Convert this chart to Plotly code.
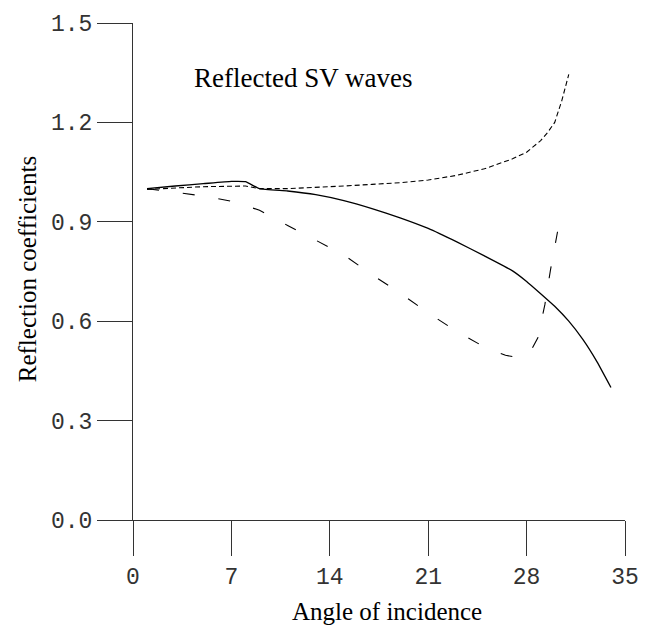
import plotly.graph_objects as go

# Angle of incidence (degrees) and reflection coefficients
solid_x = [1, 3, 5, 7, 8, 9, 11, 13, 15, 17, 19, 21, 23, 25, 27, 28, 29, 30, 31, 32, 33, 34]
solid_y = [1.0, 1.008, 1.015, 1.022, 1.021, 1.0, 0.993, 0.982, 0.964, 0.94, 0.912, 0.88, 0.84, 0.797, 0.752, 0.72, 0.683, 0.645, 0.6, 0.545, 0.478, 0.40]

dot_x = [1, 3, 5, 8, 9, 11, 13, 15, 17, 19, 21, 23, 25, 27, 28, 29, 29.5, 30, 30.5, 31]
dot_y = [0.998, 1.003, 1.006, 1.008, 1.0, 1.0, 1.003, 1.008, 1.013, 1.018, 1.026, 1.04, 1.06, 1.09, 1.11, 1.145, 1.17, 1.2, 1.265, 1.345]

dash_x = [1, 3, 5, 7, 9, 11, 13, 15, 17, 19, 21, 23, 25, 26.5, 27.5, 28.3, 28.8, 29.3, 29.7, 30.2]
dash_y = [1.0, 0.99, 0.978, 0.962, 0.935, 0.889, 0.845, 0.80, 0.74, 0.685, 0.625, 0.57, 0.522, 0.497, 0.49, 0.51, 0.55, 0.65, 0.755, 0.87]

x_ticks = [0, 7, 14, 21, 28, 35]
y_ticks = [0.0, 0.3, 0.6, 0.9, 1.2, 1.5]
y_tick_text = ["0.0", "0.3", "0.6", "0.9", "1.2", "1.5"]

fig = go.Figure()
fig.add_trace(go.Scatter(x=solid_x, y=solid_y, mode="lines",
                         line=dict(color="black", width=1.3, shape="spline", smoothing=0.4),
                         showlegend=False))
fig.add_trace(go.Scatter(x=dot_x, y=dot_y, mode="lines",
                         line=dict(color="black", width=1.1, dash="5px,3px"), showlegend=False))
fig.add_trace(go.Scatter(x=dash_x, y=dash_y, mode="lines",
                         line=dict(color="black", width=1.1, dash="12px,24px"), showlegend=False))

tickfont = dict(family="Liberation Mono", size=23, color="#333")
fig.update_layout(
    width=651, height=630,
    margin=dict(l=133, r=16, t=16, b=110),
    paper_bgcolor="white", plot_bgcolor="white",
    xaxis=dict(range=[0, 35], tickvals=x_ticks, ticktext=[str(v) for v in x_ticks],
               showgrid=False, zeroline=False, showline=True, linecolor="#333", linewidth=1.2,
               ticks="outside", ticklen=35, tickwidth=1.2, tickcolor="#333",
               tickfont=tickfont),
    yaxis=dict(range=[0, 1.5], tickvals=y_ticks, ticktext=y_tick_text,
               showgrid=False, zeroline=False, showline=True, linecolor="#333", linewidth=1.2,
               ticks="outside", ticklen=35, tickwidth=1.2, tickcolor="#333",
               tickfont=tickfont),
    annotations=[
        dict(text="Angle of incidence", xref="paper", yref="paper", x=0.516, y=-0.185,
             showarrow=False, font=dict(family="Liberation Serif", size=25, color="black"),
             xanchor="center", yanchor="middle"),
        dict(text="Reflection coefficients", xref="paper", yref="paper", x=-0.215, y=0.505,
             showarrow=False, textangle=-90,
             font=dict(family="Liberation Serif", size=25, color="black"),
             xanchor="center", yanchor="middle"),
        dict(text="Reflected SV waves", xref="paper", yref="paper", x=0.12, y=0.889,
             showarrow=False, font=dict(family="Liberation Serif", size=27, color="black"),
             xanchor="left", yanchor="middle"),
    ],
)
fig.write_html("out.html")
